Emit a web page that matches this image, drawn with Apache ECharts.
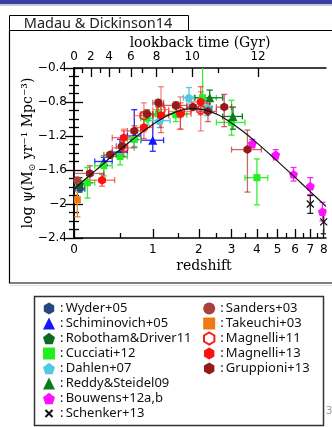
<!DOCTYPE html>
<html><head><meta charset="utf-8">
<script src="https://cdn.jsdelivr.net/npm/echarts@6/dist/echarts.min.js"></script>
<style>html,body{margin:0;padding:0;background:#fff}#c{width:332px;height:427px}</style>
</head><body><div id="c"></div>
<script>
// ---------------- data (z = redshift, psi = log SFR density) ----------------
const wyderZ = [0.055];
const wyderZBin = [[0.01, 0.1]];
const wyderPsi = [-1.82];
const wyderErr = [[0.02, 0.09]];

const schimZ = [0.3, 0.5, 0.7, 1.0];
const schimZBin = [[0.2, 0.4], [0.4, 0.6], [0.6, 0.8], [0.8, 1.2]];
const schimPsi = [-1.50, -1.39, -1.20, -1.25];
const schimErr = [[0.05, 0.05], [0.08, 0.15], [0.13, 0.31], [0.13, 0.31]];

const robZ = [0.05];
const robPsi = [-1.77];
const robErr = [[0.09, 0.08]];

const cucZ = [0.125, 0.3, 0.5, 0.7, 0.9, 1.1, 1.45, 2.1, 3.0, 4.0];
const cucZBin = [[0.05, 0.2], [0.2, 0.4], [0.4, 0.6], [0.6, 0.8], [0.8, 1.0], [1.0, 1.2], [1.2, 1.7], [1.7, 2.5], [2.5, 3.5], [3.5, 4.5]];
const cucPsi = [-1.75, -1.55, -1.44, -1.24, -0.99, -0.94, -0.95, -0.75, -1.04, -1.69];
const cucErr = [[0.18, 0.18], [0.12, 0.12], [0.10, 0.10], [0.10, 0.10], [0.08, 0.09], [0.09, 0.09], [0.08, 0.15], [0.09, 0.49], [0.15, 0.26], [0.32, 0.22]];

const dahZ = [1.125, 1.75, 2.225];
const dahZBin = [[0.92, 1.33], [1.62, 1.88], [2.08, 2.37]];
const dahPsi = [-1.02, -0.75, -0.87];
const dahErr = [[0.08, 0.08], [0.12, 0.12], [0.09, 0.09]];

const redZ = [2.3, 3.05];
const redZBin = [[1.9, 2.7], [2.7, 3.4]];
const redPsi = [-0.75, -0.97];
const redErr = [[0.11, 0.09], [0.15, 0.11]];

const bouZ = [3.8, 4.9, 5.9, 7.0, 7.9];
const bouPsi = [-1.29, -1.42, -1.65, -1.79, -2.09];
const bouErr = [[0.05, 0.05], [0.06, 0.06], [0.08, 0.08], [0.10, 0.10], [0.11, 0.11]];

const schZ = [7.0, 8.0];
const schPsi = [-2.00, -2.21];
const schErr = [[0.11, 0.10], [0.14, 0.14]];

const sanZ = [0.03];
const sanPsi = [-1.72];
const sanErr = [[0.03, 0.02]];

const takZ = [0.03];
const takPsi = [-1.95];
const takErr = [[0.20, 0.20]];

const mag11Z = [0.55, 0.85, 1.15, 1.55, 2.05];
const mag11ZBin = [[0.4, 0.7], [0.7, 1.0], [1.0, 1.3], [1.3, 1.8], [1.8, 2.3]];
const mag11Psi = [-1.34, -0.96, -0.89, -0.91, -0.89];
const mag11Err = [[0.11, 0.22], [0.19, 0.15], [0.21, 0.27], [0.21, 0.17], [0.25, 0.21]];

const mag13Z = [0.28, 0.55, 0.85, 1.15, 1.55, 2.05];
const mag13ZBin = [[0.13, 0.43], [0.4, 0.7], [0.7, 1.0], [1.0, 1.3], [1.3, 1.8], [1.8, 2.3]];
const mag13Psi = [-1.72, -1.22, -1.10, -0.96, -0.94, -0.80];
const mag13Err = [[0.07, 0.07], [0.11, 0.08], [0.13, 0.10], [0.20, 0.13], [0.18, 0.13], [0.15, 0.18]];

const grupZ = [0.15, 0.375, 0.525, 0.7, 0.9, 1.1, 1.45, 1.85, 2.25, 2.75, 3.6];
const grupZBin = [[0, 0.3], [0.3, 0.45], [0.45, 0.6], [0.6, 0.8], [0.8, 1.0], [1.0, 1.2], [1.2, 1.7], [1.7, 2.0], [2.0, 2.5], [2.5, 3.0], [3.0, 4.2]];
const grupPsi = [-1.64, -1.42, -1.32, -1.14, -0.94, -0.81, -0.84, -0.86, -0.91, -0.86, -1.36];
const grupErr = [[0.11, 0.09], [0.04, 0.03], [0.05, 0.05], [0.06, 0.06], [0.06, 0.05], [0.05, 0.04], [0.04, 0.04], [0.03, 0.02], [0.12, 0.09], [0.23, 0.15], [0.50, 0.23]];

// best-fit curve
const curveZ = [0, 0.12, 0.26, 0.41, 0.59, 0.78, 1.0, 1.24, 1.51, 1.82, 2.16, 2.55, 2.98, 3.47, 4.01, 4.62, 5.31, 6.08, 6.94, 7.91, 8.18];
const curvePsi = [-1.825, -1.691, -1.558, -1.427, -1.298, -1.176, -1.064, -0.971, -0.904, -0.877, -0.893, -0.951, -1.043, -1.157, -1.284, -1.420, -1.560, -1.702, -1.846, -1.990, -2.028];

// tick labels
const zTicks = [0, 1, 2, 3, 4, 5, 6, 7, 8];
const zTickLabels = ['0', '1', '2', '3', '4', '5', '6', '7', '8'];
const zMinorTicks = [0.5, 1.5, 2.5, 3.5, 4.5, 5.5, 6.5, 7.5];
const lookbackTickZ = [0, 0.16, 0.36, 0.65, 1.07, 1.83, 4.05];
const lookbackTickLabels = ['0', '2', '4', '6', '8', '10', '12'];
const lookbackMinorZ = [0.076, 0.255, 0.495, 0.82, 1.38, 2.55];
const yTicks = [-2.4, -2.0, -1.6, -1.2, -0.8, -0.4];
const yTickLabels = ['\u22122.4', '\u22122', '\u22121.6', '\u22121.2', '\u22120.8', '\u22120.4'];

// ---------------- styling ----------------
const L = z => Math.log10(1 + z);
const HEX = 'path://M0,-10L8.66,-5L8.66,5L0,10L-8.66,5L-8.66,-5Z';
const PENT = 'path://M0,-10L9.51,-3.09L5.88,8.09L-5.88,8.09L-9.51,-3.09Z';
const CROSS = 'path://M-10,-10L10,10M10,-10L-10,10';
const CROSS_ICON = 'path://M-17,-17M17,17M-10,-10L10,10M10,-10L-10,10';

const sets = [
  {name: 'Wyder+05', z: wyderZ, zbin: wyderZBin, psi: wyderPsi, err: wyderErr, symbol: HEX, size: 8, color: '#24487f', errColor: '#2a4f90'},
  {name: 'Schiminovich+05', z: schimZ, zbin: schimZBin, psi: schimPsi, err: schimErr, symbol: 'triangle', size: 9, color: '#1515ff', errColor: '#2a2aff'},
  {name: 'Robotham&Driver11', z: robZ, zbin: null, psi: robPsi, err: robErr, symbol: PENT, size: 9, color: '#0b6a1e', errColor: '#0b6a1e'},
  {name: 'Cucciati+12', z: cucZ, zbin: cucZBin, psi: cucPsi, err: cucErr, symbol: 'rect', size: 7, color: '#22ee22', errColor: '#33f033'},
  {name: 'Dahlen+07', z: dahZ, zbin: dahZBin, psi: dahPsi, err: dahErr, symbol: PENT, size: 9, color: '#55c8e0', errColor: '#55c8e0'},
  {name: 'Reddy&Steidel09', z: redZ, zbin: redZBin, psi: redPsi, err: redErr, symbol: 'triangle', size: 9, color: '#0d7a1d', errColor: '#0d7a1d'},
  {name: 'Bouwens+12a,b', z: bouZ, zbin: null, psi: bouPsi, err: bouErr, symbol: PENT, size: 9, color: '#ff11ff', errColor: '#ff22ff'},
  {name: 'Schenker+13', z: schZ, zbin: null, psi: schPsi, err: schErr, symbol: CROSS, size: 7, color: 'rgba(0,0,0,0)', border: '#111', bw: 1.3, errColor: '#222'},
  {name: 'Sanders+03', z: sanZ, zbin: null, psi: sanPsi, err: sanErr, symbol: 'circle', size: 8, color: '#a8403c', errColor: '#a8403c'},
  {name: 'Takeuchi+03', z: takZ, zbin: null, psi: takPsi, err: takErr, symbol: 'rect', size: 7, color: '#ee7a12', errColor: '#ee8a22'},
  {name: 'Magnelli+11', z: mag11Z, zbin: mag11ZBin, psi: mag11Psi, err: mag11Err, symbol: HEX, size: 9, color: 'rgba(255,255,255,0)', border: '#ff1a1a', bw: 1.3, errColor: 'rgba(235,60,60,0.6)'},
  {name: 'Magnelli+13', z: mag13Z, zbin: mag13ZBin, psi: mag13Psi, err: mag13Err, symbol: HEX, size: 9, color: '#ff1010', errColor: 'rgba(240,40,40,0.7)'},
  {name: 'Gruppioni+13', z: grupZ, zbin: grupZBin, psi: grupPsi, err: grupErr, symbol: HEX, size: 9, color: '#961a1a', errColor: 'rgba(170,45,45,0.7)'}
];

function renderErr(params, api) {
  const x = api.value(0), y = api.value(1);
  const c = api.coord([x, y]);
  const yl = api.coord([x, api.value(4)]), yh = api.coord([x, api.value(5)]);
  const xl = api.coord([api.value(2), y]), xh = api.coord([api.value(3), y]);
  const style = {stroke: api.visual('color'), lineWidth: 1.3, fill: null};
  const cap = 3;
  const ch = [
    {type: 'line', shape: {x1: c[0], y1: yl[1], x2: c[0], y2: yh[1]}, style},
    {type: 'line', shape: {x1: c[0] - cap, y1: yl[1], x2: c[0] + cap, y2: yl[1]}, style},
    {type: 'line', shape: {x1: c[0] - cap, y1: yh[1], x2: c[0] + cap, y2: yh[1]}, style}
  ];
  if (Math.abs(xh[0] - xl[0]) > 0.5) {
    ch.push({type: 'line', shape: {x1: xl[0], y1: c[1], x2: xh[0], y2: c[1]}, style});
    ch.push({type: 'line', shape: {x1: xl[0], y1: c[1] - cap, x2: xl[0], y2: c[1] + cap}, style});
    ch.push({type: 'line', shape: {x1: xh[0], y1: c[1] - cap, x2: xh[0], y2: c[1] + cap}, style});
  }
  return {type: 'group', children: ch};
}

const errSeries = sets.map(s => ({
  type: 'custom', name: s.name + ' err', clip: true, z: 3, silent: true,
  xAxisIndex: 0, yAxisIndex: 0,
  itemStyle: {color: s.errColor},
  encode: {x: 0, y: 1},
  renderItem: renderErr,
  data: s.z.map((z, i) => {
    const b = s.zbin ? s.zbin[i] : [z, z];
    return [L(z), s.psi[i], L(b[0]), L(b[1]), s.psi[i] - s.err[i][0], s.psi[i] + s.err[i][1]];
  })
}));

const ptSeries = sets.map(s => ({
  type: 'scatter', name: s.name, symbol: s.symbol, symbolSize: s.size, symbolKeepAspect: true,
  z: 5, silent: true, xAxisIndex: 0, yAxisIndex: 0,
  itemStyle: {color: s.color, borderColor: s.border || s.color, borderWidth: s.bw || 0, opacity: 1},
  data: s.z.map((z, i) => [L(z), s.psi[i]])
}));

const curveSeries = {
  type: 'line', name: 'fit', smooth: 0.3, showSymbol: false, z: 6, silent: true,
  xAxisIndex: 0, yAxisIndex: 0,
  lineStyle: {color: '#111', width: 1.2},
  data: curveZ.map((z, i) => [L(z), curvePsi[i]])
};

const XMAX = 0.963;
const axisLineStyle = {lineStyle: {color: '#000', width: 1.5}};
const sans = 'DejaVu Sans';
const serif = 'DejaVu Serif';
const findIdx = (arr, v) => arr.findIndex(z => Math.abs(L(z) - v) < 1e-6);

const legendBase = {
  orient: 'vertical', top: 301, itemWidth: 12, itemHeight: 12, itemGap: 0, padding: 0,
  selectedMode: false,
  textStyle: {fontFamily: 'Noto Sans', fontSize: 13, color: '#111', lineHeight: 15},
  formatter: n => ':\u2009' + n
};
const names = sets.map(s => s.name);
const legendItems = names.map(n => n === 'Schenker+13' ? {name: n, icon: CROSS_ICON} : {name: n});

const option = {
  animation: false,
  backgroundColor: '#fff',
  grid: {left: 74, right: 6, top: 68, bottom: 189},
  xAxis: [
    {type: 'value', position: 'bottom', min: 0, max: XMAX,
      axisLine: axisLineStyle, splitLine: {show: false},
      axisTick: {inside: true, length: 9, customValues: zTicks.map(L), lineStyle: {color: '#000', width: 1.3}},
      axisLabel: {customValues: zTicks.map(L), margin: 6, fontFamily: sans, fontSize: 12, color: '#000',
        formatter: v => zTickLabels[findIdx(zTicks, v)]},
      name: 'redshift', nameLocation: 'middle', nameGap: 21, nameMoveOverlap: false,
      nameTextStyle: {fontFamily: serif, fontSize: 14, color: '#000', padding: [0, 0, 0, 8]}},
    {type: 'value', position: 'bottom', min: 0, max: XMAX,
      axisLine: {show: false}, splitLine: {show: false}, axisLabel: {show: false},
      axisTick: {inside: true, length: 5, customValues: zMinorTicks.map(L), lineStyle: {color: '#000', width: 1.3}}},
    {type: 'value', position: 'top', min: 0, max: XMAX,
      axisLine: axisLineStyle, splitLine: {show: false},
      axisTick: {inside: true, length: 9, customValues: lookbackTickZ.map(L), lineStyle: {color: '#000', width: 1.3}},
      axisLabel: {customValues: lookbackTickZ.map(L), margin: 5, fontFamily: sans, fontSize: 12, color: '#000',
        formatter: v => lookbackTickLabels[findIdx(lookbackTickZ, v)]},
      name: 'lookback time (Gyr)', nameLocation: 'middle', nameGap: 18,
      nameTextStyle: {fontFamily: serif, fontSize: 14, color: '#000'}},
    {type: 'value', position: 'top', min: 0, max: XMAX,
      axisLine: {show: false}, splitLine: {show: false}, axisLabel: {show: false},
      axisTick: {inside: true, length: 5, customValues: lookbackMinorZ.map(L), lineStyle: {color: '#000', width: 1.3}}}
  ],
  yAxis: [
    {type: 'value', position: 'left', min: -2.4, max: -0.4, interval: 0.4,
      axisLine: axisLineStyle, splitLine: {show: false},
      axisTick: {inside: true, length: 9, lineStyle: {color: '#000', width: 1.3}},
      minorTick: {show: true, splitNumber: 4, length: 5, lineStyle: {color: '#000', width: 1.3}},
      minorSplitLine: {show: false},
      axisLabel: {margin: 7, fontFamily: sans, fontSize: 12, color: '#000',
        formatter: v => yTickLabels[yTicks.findIndex(t => Math.abs(t - v) < 1e-6)]},
      name: '{a|log ψ(M}{s|⊙}{a| yr⁻¹ Mpc⁻³)}', nameLocation: 'middle', nameRotate: 90, nameGap: 37,
      nameMoveOverlap: false,
      nameTextStyle: {rich: {
        a: {fontFamily: serif, fontSize: 14, color: '#000', lineHeight: 18},
        s: {fontFamily: serif, fontSize: 9, color: '#000', verticalAlign: 'bottom', lineHeight: 18}
      }}},
    {type: 'value', position: 'right', min: -2.4, max: -0.4, interval: 0.4,
      axisLine: axisLineStyle, splitLine: {show: false}, axisLabel: {show: false},
      axisTick: {inside: true, length: 9, lineStyle: {color: '#000', width: 1.3}},
      minorTick: {show: true, splitNumber: 4, length: 5, lineStyle: {color: '#000', width: 1.3}},
      minorSplitLine: {show: false}}
  ],
  legend: [
    Object.assign({}, legendBase, {left: 42, data: legendItems.slice(0, 8)}),
    Object.assign({}, legendBase, {left: 203, data: legendItems.slice(8)})
  ],
  graphic: [
    {type: 'rect', z: -10, shape: {x: 0, y: 0, width: 332, height: 4}, style: {fill: '#3b3f9e'}},
    {type: 'rect', z: -10, shape: {x: 0, y: 4, width: 332, height: 2}, style: {fill: '#c9c9e6'}},
    {type: 'rect', z: -10, shape: {x: 9.5, y: 15.5, width: 179, height: 15}, style: {fill: '#fff', stroke: '#000', lineWidth: 1}},
    {type: 'text', z: -9, x: 98, y: 23.5, style: {text: 'Madau & Dickinson14', fill: '#222', font: '14.5px "Noto Sans"', textAlign: 'center', textVerticalAlign: 'middle'}},
    {type: 'rect', z: -10, shape: {x: 9.5, y: 30.5, width: 330, height: 252.5}, style: {fill: null, stroke: '#000', lineWidth: 1.2}},
    {type: 'rect', z: -10, shape: {x: 10, y: 285, width: 322, height: 1}, style: {fill: '#dddddd'}},
    {type: 'rect', z: -10, shape: {x: 34.5, y: 296.5, width: 289, height: 129}, style: {fill: null, stroke: '#333', lineWidth: 1.5}},
    {type: 'text', z: -9, x: 326, y: 411, style: {text: '3', fill: '#999', font: '11px "Noto Sans"', textVerticalAlign: 'middle'}}
  ],
  series: [].concat(errSeries, [curveSeries], ptSeries)
};

const chart = echarts.init(document.getElementById('c'), null, {renderer: 'canvas', devicePixelRatio: 1});
chart.setOption(option);
</script></body></html>
